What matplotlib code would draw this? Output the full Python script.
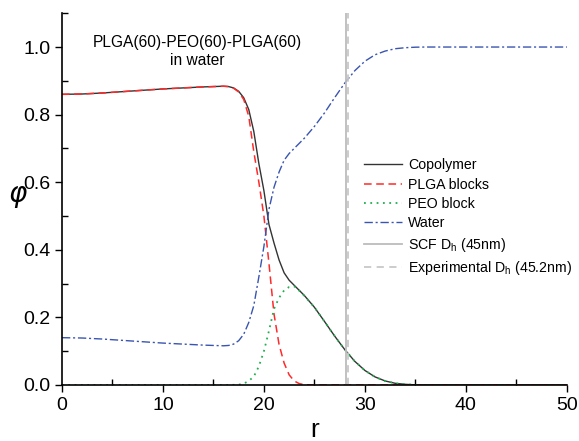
import numpy as np
import matplotlib
matplotlib.use('Agg')
from matplotlib import pyplot as plt
from matplotlib.ticker import MultipleLocator

plt.rcParams['font.family'] = ['Liberation Sans', 'DejaVu Sans']
plt.rcParams['mathtext.fontset'] = 'custom'
plt.rcParams['mathtext.rm'] = 'Liberation Sans'

# radial positions
r = [0, 2, 4, 6, 8, 10, 12, 14, 16, 16.5, 17, 17.5, 18, 18.5, 19, 19.5, 20, 20.5,
     21, 21.5, 22, 22.5, 23, 23.5, 24, 25, 26, 27, 28, 29, 30, 31, 32, 33, 34, 35,
     36, 40, 45, 50]

copolymer = [0.860, 0.861, 0.864, 0.868, 0.872, 0.876, 0.879, 0.882, 0.884, 0.883,
             0.879, 0.869, 0.850, 0.815, 0.750, 0.655, 0.575, 0.475, 0.420, 0.370,
             0.332, 0.310, 0.295, 0.280, 0.265, 0.230, 0.188, 0.145, 0.105, 0.070,
             0.043, 0.024, 0.012, 0.005, 0.002, 0.0005, 0, 0, 0, 0]

plga = [0.860, 0.861, 0.864, 0.868, 0.872, 0.876, 0.879, 0.882, 0.884, 0.883,
        0.878, 0.867, 0.845, 0.795, 0.690, 0.600, 0.500, 0.360, 0.210, 0.120,
        0.065, 0.030, 0.012, 0.004, 0.001, 0, 0, 0, 0, 0,
        0, 0, 0, 0, 0, 0, 0, 0, 0, 0]

peo = [0, 0, 0, 0, 0, 0, 0, 0, 0, 0,
       0.0005, 0.001, 0.004, 0.012, 0.025, 0.055, 0.100, 0.160, 0.225, 0.258,
       0.280, 0.290, 0.292, 0.279, 0.264, 0.230, 0.188, 0.145, 0.105, 0.070,
       0.043, 0.024, 0.012, 0.005, 0.002, 0.0005, 0, 0, 0, 0]

water = [0.140, 0.139, 0.136, 0.132, 0.128, 0.124, 0.121, 0.118, 0.116, 0.117,
         0.121, 0.131, 0.150, 0.185, 0.235, 0.320, 0.410, 0.520, 0.585, 0.630,
         0.665, 0.685, 0.700, 0.715, 0.730, 0.765, 0.805, 0.850, 0.893, 0.930,
         0.958, 0.977, 0.988, 0.995, 0.998, 0.9995, 1.0, 1.0, 1.0, 1.0]

scf_r = 28.15
exp_r = 28.3

fig = plt.figure(figsize=(5.79, 4.41), dpi=100)
ax = fig.add_axes([0.107, 0.127, 0.872, 0.843])

ax.plot(r, copolymer, color='#333333', lw=1.0, label='Copolymer')
ax.plot(r, plga, color='#ff2a2a', lw=1.1, ls=(0, (5, 3)), label='PLGA blocks')
ax.plot(r, peo, color='#1fb050', lw=1.3, ls=(0, (1, 2.5)), label='PEO block')
ax.plot(r, water, color='#3a55b0', lw=1.0, ls=(0, (6, 2, 1.5, 2)), label='Water')
ax.axvline(scf_r, color='#bcbcbc', lw=1.3, label='SCF D$_\\mathregular{h}$ (45nm)')
ax.axvline(exp_r, color='#c8c8c8', lw=1.3, ls=(0, (4, 3)),
           label='Experimental D$_\\mathregular{h}$ (45.2nm)')

ax.set_xlim(0, 50)
ax.set_ylim(0, 1.1)
ax.xaxis.set_major_locator(MultipleLocator(10))
ax.xaxis.set_minor_locator(MultipleLocator(5))
ax.yaxis.set_major_locator(MultipleLocator(0.2))
ax.yaxis.set_minor_locator(MultipleLocator(0.1))
ax.yaxis.set_major_formatter(plt.FormatStrFormatter('%.1f'))
ax.tick_params(which='major', direction='out', length=5, width=1.0, labelsize=14)
ax.tick_params(which='minor', direction='in', length=4, width=1.0)
for s in ['top', 'right']:
    ax.spines[s].set_visible(False)
for s in ['left', 'bottom']:
    ax.spines[s].set_linewidth(1.2)

ax.set_xlabel('r', fontsize=19, labelpad=3)
ax.set_ylabel('$\\varphi$', fontsize=20, rotation=0)
ax.yaxis.set_label_coords(-0.088, 0.47)

ax.text(13.4, 1.035, 'PLGA(60)-PEO(60)-PLGA(60)\nin water', ha='center', va='top',
        fontsize=11.2, linespacing=1.2)

ax.legend(loc='upper left', bbox_to_anchor=(0.598, 0.61), frameon=False,
          fontsize=10.2, handlelength=2.7, handletextpad=0.4, labelspacing=0.38,
          borderaxespad=0, borderpad=0)

fig.savefig('out.png', dpi=100)
